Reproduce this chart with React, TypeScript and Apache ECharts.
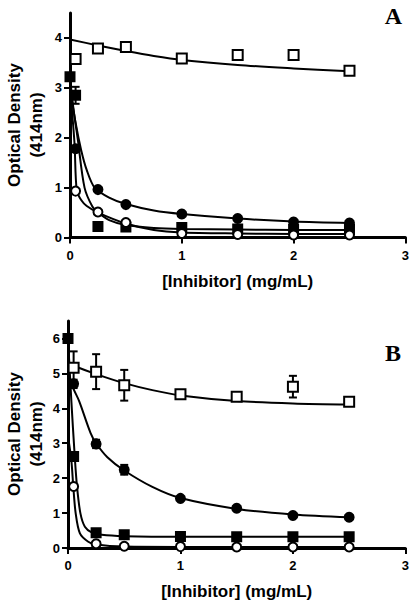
import React, { useEffect, useRef } from "react";
import * as echarts from "echarts";

// ---------- Panel A data ----------
const xA_openSq = [0.05, 0.25, 0.5, 1, 1.5, 2, 2.5];
const yA_openSq = [3.58, 3.79, 3.82, 3.59, 3.66, 3.66, 3.34];

const xA_fillSq = [0, 0.05, 0.25, 0.5, 1, 1.5, 2, 2.5];
const yA_fillSq = [3.22, 2.85, 0.22, 0.21, 0.2, 0.17, 0.16, 0.16];
const eA_fillSq = [0, 0.17, 0, 0, 0, 0, 0, 0];

const xA_fillCirc = [0.05, 0.25, 0.5, 1, 1.5, 2, 2.5];
const yA_fillCirc = [1.78, 0.96, 0.66, 0.47, 0.38, 0.31, 0.29];

const xA_openCirc = [0.05, 0.25, 0.5, 1, 1.5, 2, 2.5];
const yA_openCirc = [0.93, 0.51, 0.3, 0.08, 0.06, 0.05, 0.05];

// fitted curves A
const cxA_openSq = [0, 0.25, 0.5, 0.75, 1, 1.5, 2, 2.5];
const cyA_openSq = [3.97, 3.85, 3.74, 3.64, 3.56, 3.46, 3.39, 3.33];
const cxA_fillCirc = [0, 0.05, 0.1, 0.15, 0.22, 0.35, 0.5, 0.75, 1, 1.5, 2, 2.5];
const cyA_fillCirc = [3.0, 2.3, 1.75, 1.35, 1.0, 0.8, 0.67, 0.54, 0.47, 0.38, 0.32, 0.29];
const cxA_fillSq = [0, 0.03, 0.07, 0.13, 0.2, 0.25, 0.35, 0.5, 0.75, 1, 1.5, 2, 2.5];
const cyA_fillSq = [3.2, 2.6, 1.96, 1.0, 0.62, 0.5, 0.35, 0.25, 0.19, 0.17, 0.16, 0.15, 0.15];
const cxA_openCirc = [0, 0.04, 0.06, 0.1, 0.15, 0.25, 0.5, 0.75, 1, 1.5, 2, 2.5];
const cyA_openCirc = [3.0, 1.9, 0.95, 0.75, 0.63, 0.5, 0.28, 0.15, 0.1, 0.08, 0.07, 0.07];

// ---------- Panel B data ----------
const xB_openSq = [0.05, 0.25, 0.5, 1, 1.5, 2, 2.5];
const yB_openSq = [5.16, 5.05, 4.66, 4.4, 4.33, 4.62, 4.19];
const eB_openSq = [0.47, 0.5, 0.44, 0.1, 0, 0.31, 0];

const xB_fillCirc = [0.05, 0.25, 0.5, 1, 1.5, 2, 2.5];
const yB_fillCirc = [4.7, 2.98, 2.24, 1.42, 1.14, 0.93, 0.88];
const eB_fillCirc = [0.12, 0.12, 0.14, 0, 0, 0, 0];

const xB_fillSq = [0, 0.05, 0.25, 0.5, 1, 1.5, 2, 2.5];
const yB_fillSq = [6.0, 2.62, 0.44, 0.38, 0.33, 0.32, 0.32, 0.32];
const eB_fillSq = [0, 0.1, 0.08, 0.06, 0.05, 0.05, 0.05, 0.05];

const xB_openCirc = [0.05, 0.25, 0.5, 1, 1.5, 2, 2.5];
const yB_openCirc = [1.76, 0.12, 0.05, 0.04, 0.03, 0.03, 0.03];

// fitted curves B
const cxB_openSq = [0, 0.05, 0.25, 0.5, 0.75, 1, 1.5, 2, 2.5];
const cyB_openSq = [5.3, 5.22, 4.98, 4.72, 4.52, 4.37, 4.21, 4.14, 4.11];
const cxB_fillCirc = [0, 0.05, 0.1, 0.2, 0.25, 0.35, 0.5, 0.75, 1, 1.5, 2, 2.5];
const cyB_fillCirc = [5.0, 4.55, 4.2, 3.3, 3.0, 2.6, 2.22, 1.75, 1.43, 1.12, 0.96, 0.88];
const cxB_fillSq = [0, 0.03, 0.06, 0.08, 0.11, 0.15, 0.21, 0.3, 0.5, 1, 1.5, 2, 2.5];
const cyB_fillSq = [6.0, 4.2, 2.62, 1.76, 1.0, 0.61, 0.45, 0.38, 0.34, 0.32, 0.32, 0.32, 0.32];
const cxB_openCirc = [0, 0.03, 0.047, 0.068, 0.106, 0.18, 0.25, 0.5, 1, 1.5, 2, 2.5];
const cyB_openCirc = [3.2, 2.5, 1.76, 1.0, 0.42, 0.18, 0.1, 0.04, 0.03, 0.03, 0.03, 0.03];

const yTicksA = [0, 1, 2, 3, 4];
const yTicksB = [0, 1, 2, 3, 4, 5, 6];
const xTicks = [0, 1, 2, 3];
const xTitle = "[Inhibitor] (mg/mL)";
const yTitle = "Optical Density\n(414nm)";

const FONT = "Liberation Sans, Arial, sans-serif";

const zip = (xs: number[], ys: number[]) => xs.map((x, i) => [x, ys[i]]);

function curve(xs: number[], ys: number[], idx: number) {
  return {
    type: "line",
    xAxisIndex: idx,
    yAxisIndex: idx,
    data: zip(xs, ys),
    showSymbol: false,
    symbol: "none",
    smooth: 0.3,
    lineStyle: { color: "#000", width: 2 },
    z: 2,
    silent: true,
  };
}

function points(xs: number[], ys: number[], idx: number, symbol: string, filled: boolean, size = 9) {
  return {
    type: "scatter",
    xAxisIndex: idx,
    yAxisIndex: idx,
    data: zip(xs, ys),
    symbol,
    symbolSize: size,
    itemStyle: { color: filled ? "#000" : "#fff", borderColor: "#000", borderWidth: 2, opacity: 1 },
    z: 5,
    silent: true,
  };
}

function errBars(xs: number[], ys: number[], es: number[], idx: number) {
  return {
    type: "custom",
    xAxisIndex: idx,
    yAxisIndex: idx,
    data: xs.map((x, i) => [x, ys[i], es[i]]).filter((d) => d[2] > 0),
    encode: { x: 0, y: 1 },
    z: 4,
    silent: true,
    renderItem: (params: any, api: any) => {
      const x = api.value(0);
      const y = api.value(1);
      const e = api.value(2);
      const t = api.coord([x, y + e]);
      const b = api.coord([x, y - e]);
      const w = 4;
      const st = { stroke: "#000", lineWidth: 2 };
      return {
        type: "group",
        children: [
          { type: "line", shape: { x1: t[0], y1: t[1], x2: b[0], y2: b[1] }, style: st },
          { type: "line", shape: { x1: t[0] - w, y1: t[1], x2: t[0] + w, y2: t[1] }, style: st },
          { type: "line", shape: { x1: b[0] - w, y1: b[1], x2: b[0] + w, y2: b[1] }, style: st },
        ],
      };
    },
  };
}

function xAxis(idx: number) {
  return {
    type: "value",
    gridIndex: idx,
    min: 0,
    max: 3,
    interval: 1,
    splitLine: { show: false },
    axisLine: { show: true, onZero: false, lineStyle: { color: "#000", width: 3 } },
    axisTick: { show: true, inside: false, length: 6, lineStyle: { color: "#000", width: 2 }, customValues: xTicks },
    axisLabel: { color: "#000", fontSize: 13, fontWeight: "bold", fontFamily: FONT, margin: 11, customValues: xTicks },
    name: xTitle,
    nameLocation: "middle",
    nameGap: 35,
    nameTextStyle: { color: "#000", fontSize: 17, fontWeight: "bold", fontFamily: FONT },
  };
}

function yAxis(idx: number, max: number, ticks: number[]) {
  return {
    type: "value",
    gridIndex: idx,
    min: 0,
    max,
    interval: 1,
    splitLine: { show: false },
    axisLine: { show: true, onZero: false, lineStyle: { color: "#000", width: 3 } },
    axisTick: { show: true, inside: false, length: 6, lineStyle: { color: "#000", width: 2 }, customValues: ticks },
    axisLabel: {
      color: "#000",
      fontSize: 13,
      fontWeight: "bold",
      fontFamily: FONT,
      margin: 8,
      customValues: ticks,
      formatter: (v: number) => (Number.isInteger(v) ? String(v) : ""),
    },
  };
}

export default function App() {
  const ref = useRef<HTMLDivElement>(null);
  useEffect(() => {
    if (!ref.current) return;
    const chart = echarts.init(ref.current, null, { renderer: "svg" });
    const option: any = {
      animation: false,
      backgroundColor: "#fff",
      grid: [
        { left: 70, top: 13, width: 337, height: 224.5 },
        { left: 68, top: 321, width: 339, height: 227 },
      ],
      xAxis: [xAxis(0), xAxis(1)],
      yAxis: [yAxis(0, 4.5, yTicksA), yAxis(1, 6.5, yTicksB)],
      graphic: [
        {
          type: "text",
          x: 25,
          y: 125,
          rotation: Math.PI / 2,
          style: { text: yTitle, font: `bold 17px ${FONT}`, fill: "#000", textAlign: "center", textVerticalAlign: "middle", lineHeight: 22 },
        },
        {
          type: "text",
          x: 25,
          y: 434,
          rotation: Math.PI / 2,
          style: { text: yTitle, font: `bold 17px ${FONT}`, fill: "#000", textAlign: "center", textVerticalAlign: "middle", lineHeight: 22 },
        },
        {
          type: "text",
          x: 393.5,
          y: 16,
          style: { text: "A", font: "bold 24px Liberation Serif, Times New Roman, serif", fill: "#000", textAlign: "center", textVerticalAlign: "middle" },
        },
        {
          type: "text",
          x: 393,
          y: 353,
          style: { text: "B", font: "bold 24px Liberation Serif, Times New Roman, serif", fill: "#000", textAlign: "center", textVerticalAlign: "middle" },
        },
      ],
      series: [
        curve(cxA_openSq, cyA_openSq, 0),
        curve(cxA_fillCirc, cyA_fillCirc, 0),
        curve(cxA_fillSq, cyA_fillSq, 0),
        curve(cxA_openCirc, cyA_openCirc, 0),
        errBars(xA_fillSq, yA_fillSq, eA_fillSq, 0),
        points(xA_openSq, yA_openSq, 0, "rect", false, 10),
        points(xA_fillSq, yA_fillSq, 0, "rect", true, 9),
        points(xA_fillCirc, yA_fillCirc, 0, "circle", true, 9),
        points(xA_openCirc, yA_openCirc, 0, "circle", false, 9),

        curve(cxB_openSq, cyB_openSq, 1),
        curve(cxB_fillCirc, cyB_fillCirc, 1),
        curve(cxB_fillSq, cyB_fillSq, 1),
        curve(cxB_openCirc, cyB_openCirc, 1),
        errBars(xB_openSq, yB_openSq, eB_openSq, 1),
        errBars(xB_fillCirc, yB_fillCirc, eB_fillCirc, 1),
        errBars(xB_fillSq, yB_fillSq, eB_fillSq, 1),
        points(xB_openSq, yB_openSq, 1, "rect", false, 10),
        points(xB_fillSq, yB_fillSq, 1, "rect", true, 9),
        points(xB_fillCirc, yB_fillCirc, 1, "circle", true, 9),
        points(xB_openCirc, yB_openCirc, 1, "circle", false, 9),
      ],
    };
    chart.setOption(option);
    return () => chart.dispose();
  }, []);
  return <div ref={ref} style={{ position: "fixed", left: 0, top: 0, width: 412, height: 604 }} />;
}
